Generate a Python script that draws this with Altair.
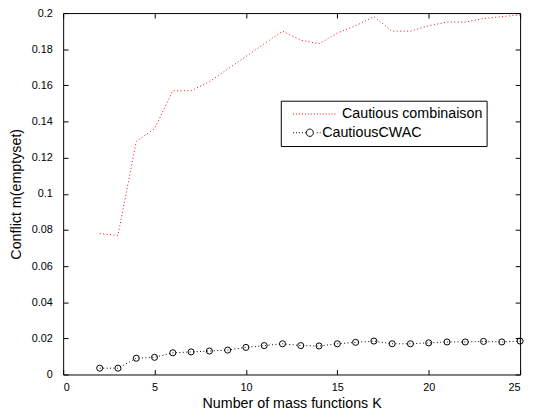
import altair as alt
import pandas as pd

# ---- data ----
K = list(range(2, 26))
cautious = [0.078, 0.077, 0.129, 0.136, 0.157, 0.157, 0.162, 0.169, 0.176, 0.183,
            0.190, 0.185, 0.183, 0.189, 0.193, 0.198, 0.190, 0.190, 0.193, 0.195,
            0.195, 0.197, 0.198, 0.199]
cwac = [0.0035, 0.0035, 0.009, 0.0095, 0.012, 0.0125, 0.013, 0.0135, 0.015, 0.016,
        0.017, 0.016, 0.0158, 0.017, 0.0178, 0.0185, 0.017, 0.017, 0.0175, 0.018,
        0.018, 0.0183, 0.018, 0.0185]
# MATLAB legend label of the first series carries leading spaces
series_names = ["\u200b" + "\u00a0" * 5 + "Cautious combinaison", "CautiousCWAC"]
x_ticks = [0, 5, 10, 15, 20, 25]
y_ticks = [0, 0.02, 0.04, 0.06, 0.08, 0.1, 0.12, 0.14, 0.16, 0.18, 0.2]

df = pd.DataFrame({
    "K": K + K,
    "value": cautious + cwac,
    "series": [series_names[0]] * len(K) + [series_names[1]] * len(K),
})
df_cwac = df[df["series"] == series_names[1]]

W, H = 464, 367
FONT = "Liberation Sans"

color_scale = alt.Scale(domain=series_names, range=["#ff0000", "#000000"])
x_scale = alt.Scale(domain=[0, 25], nice=False, zero=False)
y_scale = alt.Scale(domain=[0, 0.2], nice=False)

common_axis = dict(grid=False, domain=False, ticks=True, tickSize=5, offset=-5,
                   tickColor="black", tickWidth=1, labelOverlap=False,
                   labelFont=FONT, labelFontSize=11, labelColor="black",
                   titleFont=FONT, titleFontSize=14.5, titleFontWeight="normal",
                   titleColor="black")
x_bottom = alt.Axis(orient="bottom", values=x_ticks, title="Number of mass functions K",
                    labelPadding=7, titlePadding=5, **common_axis)
y_left = alt.Axis(orient="left", values=y_ticks, format=".2~f",
                  title="Conflict m(emptyset)", labelPadding=11, titlePadding=8,
                  **common_axis)
x_top = alt.Axis(orient="top", values=x_ticks, title=None, labels=False, **common_axis)
y_right = alt.Axis(orient="right", values=y_ticks, title=None, labels=False, **common_axis)

# ---- legend symbol paths (unit coords, 1 unit = 17 px) ----
U = 17.0
def dots(p0, p1, skip=None):
    segs = []
    p = p0
    while p <= p1:
        if not (skip and skip[0] <= p <= skip[1]):
            a = p / U
            b = (p + 1) / U
            segs.append(f"M{a:.3f},0H{b:.3f}")
        p += 3
    return "".join(segs)

red_path = dots(-9, 34)
cx, r = 8 / U, 3.5 / U
circle = (f"M{cx - r:.3f},0A{r:.3f},{r:.3f} 0 1,0 {cx + r:.3f},0"
          f"A{r:.3f},{r:.3f} 0 1,0 {cx - r:.3f},0Z")
cwac_path = dots(-9, 20, skip=(3.5, 12.5)) + circle
sym_expr = f"datum.value == 'CautiousCWAC' ? '{cwac_path}' : '{red_path}'"

legend = alt.Legend(
    title=None, orient="none", legendX=221, legendY=89,
    fillColor="white", strokeColor="black", padding=4,
    clipHeight=19, rowPadding=0,
    symbolSize=U * U * 4, symbolType=alt.ExprRef(sym_expr),
    symbolStrokeWidth=1, symbolFillColor="transparent", symbolOffset=0,
    symbolDash=[1, 0],
    labelOffset=3, labelFont=FONT, labelFontSize=14.5, labelColor="black",
    labelLimit=400, cornerRadius=0,
)

lines = alt.Chart(df).mark_line(strokeDash=[1, 2.5], strokeWidth=1).encode(
    x=alt.X("K:Q", scale=x_scale, axis=x_bottom),
    y=alt.Y("value:Q", scale=y_scale, axis=y_left),
    color=alt.Color("series:N", scale=color_scale, legend=legend),
    detail="series:N",
)

points = alt.Chart(df_cwac).mark_point(filled=False, size=38, strokeWidth=1, opacity=1).encode(
    x=alt.X("K:Q", scale=x_scale, axis=x_top),
    y=alt.Y("value:Q", scale=y_scale, axis=y_right),
    color=alt.Color("series:N", scale=color_scale),
)

chart = alt.layer(lines, points).properties(
    width=W, height=H,
    autosize=alt.AutoSizeParams(type="none"),
    padding={"left": 56, "top": 2, "right": 7, "bottom": 40},
    background="white",
).configure_view(
    stroke="black", strokeWidth=1,
)

chart.save("out.html", embed_options={"renderer": "svg", "actions": False})
